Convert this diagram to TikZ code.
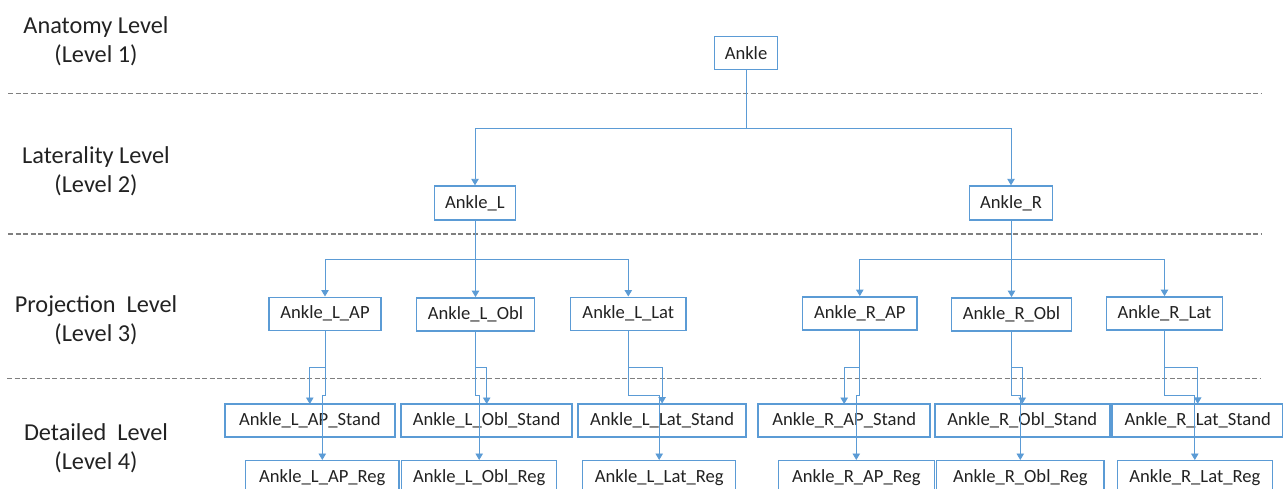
\documentclass[tikz,border=0pt]{standalone}
\usepackage{fontspec}
\setmainfont{Carlito}
\usetikzlibrary{arrows.meta}
\definecolor{boxblue}{HTML}{5B9BD5}
\definecolor{linegray}{HTML}{7F7F7F}
\definecolor{txt}{HTML}{222222}
\begin{document}
\begin{tikzpicture}[x=1pt,y=-1pt,
  box/.style={draw=boxblue,line width=1.4pt,fill=white,rectangle,inner sep=0pt,
    minimum height=33pt,text=txt,font=\fontsize{18.6}{21}\selectfont},
  conn/.style={draw=boxblue,line width=0.9pt,-{Triangle[length=6.5pt,width=7.5pt]}},
  sep/.style={draw=linegray,line width=1.1pt,dash pattern=on 5pt off 2.5pt},
  lvl/.style={align=center,text=txt,font=\fontsize{24.3}{29.5}\selectfont}]
\useasboundingbox (0,0) rectangle (1283,488);
\clip (0,0) rectangle (1283,488);

% level labels
\node[lvl] (lab1) at (96,41) {Anatomy Level\\(Level 1)};
\node[lvl] (lab2) at (96,171) {Laterality Level\\(Level 2)};
\node[lvl] (lab3) at (96,320) {Projection~~Level\\(Level 3)};
\node[lvl] (lab4) at (96,448) {Detailed~~Level\\(Level 4)};

% separators
\coordinate (s1a) at (8,93.5);  \coordinate (s1b) at (1262,93.5);
\coordinate (s2a) at (8,234);   \coordinate (s2b) at (1262,234);
\coordinate (s3a) at (7,378.5); \coordinate (s3b) at (1260,378.5);
\draw[sep] (s1a) -- (s1b);
\draw[sep] (s2a) -- (s2b);
\draw[sep] (s3a) -- (s3b);

% level 1 and 2
\node[box,minimum width=63.5pt] (A) at (746,52.7) {Ankle};
\node[box,minimum width=81.5pt,minimum height=34pt] (L) at (475,203) {Ankle\_L};
\node[box,minimum width=83.5pt,minimum height=34pt] (R) at (1011,203) {Ankle\_R};

% level 3
\node[box,minimum width=112pt] (LAP) at (325,313.7) {Ankle\_L\_AP};
\node[box,minimum width=118pt] (LObl) at (475.5,314.3) {Ankle\_L\_Obl};
\node[box,minimum width=115.5pt] (LLat) at (628.3,313.7) {Ankle\_L\_Lat};
\node[box,minimum width=114.5pt] (RAP) at (859.8,313.3) {Ankle\_R\_AP};
\node[box,minimum width=120pt] (RObl) at (1011.5,314.3) {Ankle\_R\_Obl};
\node[box,minimum width=116.5pt] (RLat) at (1164.5,313.3) {Ankle\_R\_Lat};

% level 4 - stand
\node[box,minimum width=169.5pt,minimum height=32pt] (LAPS) at (309.8,420.7) {Ankle\_L\_AP\_Stand};
\node[box,minimum width=170pt,minimum height=32pt] (LOblS) at (486.7,420.7) {Ankle\_L\_Obl\_Stand};
\node[box,minimum width=167.5pt,minimum height=32pt] (LLatS) at (662.1,420.2) {Ankle\_L\_Lat\_Stand};
\node[box,minimum width=171.5pt,minimum height=32pt] (RAPS) at (844.2,420.7) {Ankle\_R\_AP\_Stand};
\node[box,minimum width=174pt,minimum height=32pt] (ROblS) at (1022.2,420.7) {Ankle\_R\_Obl\_Stand};
\node[box,minimum width=170pt,minimum height=32pt] (RLatS) at (1197.7,420.5) {Ankle\_R\_Lat\_Stand};

% level 4 - reg
\node[box,minimum width=153.5pt,minimum height=33pt] (LAPR) at (322.3,477.2) {Ankle\_L\_AP\_Reg};
\node[box,minimum width=155pt,minimum height=33pt] (LOblR) at (479.2,477.2) {Ankle\_L\_Obl\_Reg};
\node[box,minimum width=153pt,minimum height=33pt] (LLatR) at (659.2,477.2) {Ankle\_L\_Lat\_Reg};
\node[box,minimum width=156pt,minimum height=33pt] (RAPR) at (856.3,477.2) {Ankle\_R\_AP\_Reg};
\node[box,minimum width=167.3pt,minimum height=33pt] (ROblR) at (1020.3,477.2) {Ankle\_R\_Obl\_Reg};
\node[box,minimum width=155pt,minimum height=33pt] (RLatR) at (1194.8,477.2) {Ankle\_R\_Lat\_Reg};

% connectors level 1 -> 2
\draw[conn] (A.south) |- (L.north |- 0,128.3) -- (L.north);
\draw[conn] (A.south) |- (R.north |- 0,128.3) -- (R.north);

% level 2 -> 3
\foreach \c in {LAP,LObl,LLat} {
  \draw[conn] (L.south) |- (\c.north |- 0,259) -- (\c.north);
}
\foreach \c in {RAP,RObl,RLat} {
  \draw[conn] (R.south) |- (\c.north |- 0,259) -- (\c.north);
}

% level 3 -> 4
\foreach \p/\s/\r in {LAP/LAPS/LAPR,LObl/LOblS/LOblR,LLat/LLatS/LLatR,RAP/RAPS/RAPR,RObl/ROblS/ROblR,RLat/RLatS/RLatR} {
  \draw[conn] (\p.south) |- (\s.north |- 0,367.7) -- (\s.north);
  \draw[conn] (\p.south) |- (\r.north |- 0,395.5) -- (\r.north);
}

% stand box borders on top of the connectors
\foreach \s in {LAPS,LOblS,LLatS,RAPS,ROblS,RLatS} {
  \draw[draw=boxblue,line width=1.4pt] (\s.north west) rectangle (\s.south east);
}
\end{tikzpicture}
\end{document}
